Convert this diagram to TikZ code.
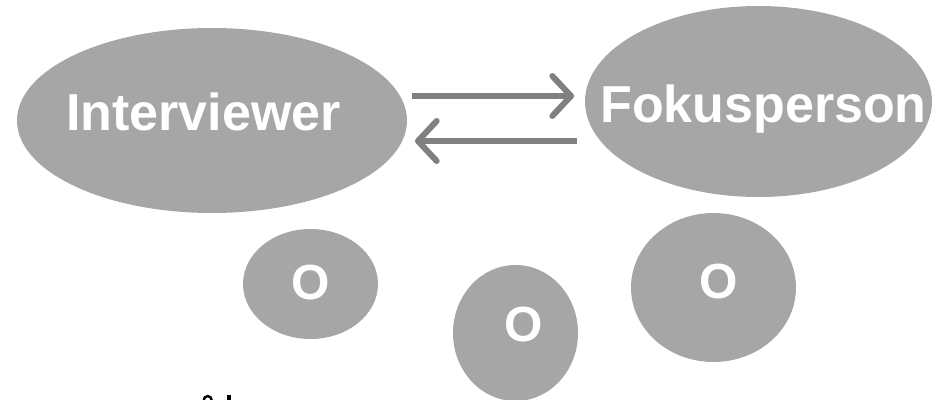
\documentclass[tikz,border=0pt]{standalone}
\usepackage{fontspec}
\setmainfont{Liberation Sans}
\usetikzlibrary{arrows.meta,shapes.geometric}
\definecolor{blobgray}{HTML}{A6A6A6}
\definecolor{arrowgray}{HTML}{808080}
\begin{document}
\begin{tikzpicture}[x=0.75pt,y=-0.75pt,
  blob/.style={ellipse,fill=blobgray,draw=none,inner sep=0pt},
  biglabel/.style={text=white,font=\fontsize{39}{39}\selectfont\bfseries,inner sep=0pt,anchor=base},
  smalllabel/.style={text=white,font=\fontsize{37}{37}\selectfont\bfseries,inner sep=0pt,anchor=base},
  link/.style={draw=arrowgray,line width=4.5pt,
    -{Straight Barb[length=14pt,width=30pt,line width=4.5pt,round]}}]
\useasboundingbox (0,0) rectangle (940,400);

% two main parties
\node[blob,minimum width=390*0.75pt,minimum height=185*0.75pt] (int) at (212,120.5) {};
\node[biglabel] (intlbl) at (203.5,130) {Interviewer};
\node[blob,minimum width=347*0.75pt,minimum height=191*0.75pt] (fok) at (758.5,101.5) {};
\node[biglabel] (foklbl) at (763.5,122) {Fokusperson};

% three smaller bubbles
\node[blob,minimum width=135*0.75pt,minimum height=110*0.75pt] (o1) at (310.5,284) {};
\node[smalllabel] (o1lbl) at (310.5,299.5) {O};
\node[blob,minimum width=125*0.75pt,minimum height=136*0.75pt] (o2) at (515.5,333) {};
\node[smalllabel] (o2lbl) at (524,341.5) {O};
\node[blob,minimum width=165*0.75pt,minimum height=149*0.75pt] (o3) at (713.5,287.5) {};
\node[smalllabel] (o3lbl) at (718.5,298.5) {O};

% exchange arrows between the parties
\coordinate (toS) at (412,96);
\coordinate (toE) at (574,96);
\coordinate (backS) at (577,141);
\coordinate (backE) at (415,141);
\draw[link] (toS) -- (toE);
\draw[link] (backS) -- (backE);

% glyph tops peeking in at the lower edge
\draw[black,line width=1.8pt] (203.5,401) arc[start angle=180,end angle=360,x radius=4.2,y radius=5];
\fill[black] (227,395) rectangle (230.5,400);
\end{tikzpicture}
\end{document}
